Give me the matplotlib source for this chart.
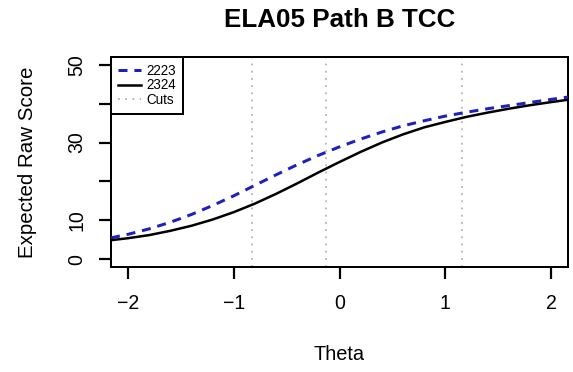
import numpy as np
import matplotlib
matplotlib.use("Agg")
import matplotlib.pyplot as plt

plt.rcParams['font.family'] = ['Liberation Sans', 'DejaVu Sans']

# values
theta = [-2.16, -2.0, -1.8, -1.6, -1.4, -1.2, -1.0, -0.8, -0.6, -0.4, -0.2, 0.0,
         0.2, 0.4, 0.6, 0.8, 1.0, 1.2, 1.4, 1.6, 1.8, 2.0, 2.16]
tcc_2223 = [5.5, 6.4, 7.8, 9.5, 11.5, 13.8, 16.3, 19.0, 21.7, 24.3, 26.7, 28.9,
            30.9, 32.7, 34.3, 35.6, 36.8, 37.8, 38.7, 39.5, 40.3, 41.1, 41.7]
tcc_2324 = [4.9, 5.4, 6.2, 7.3, 8.6, 10.2, 12.1, 14.3, 16.8, 19.5, 22.3, 25.0,
            27.6, 30.0, 32.1, 33.9, 35.3, 36.6, 37.7, 38.7, 39.6, 40.4, 41.0]
cuts = [-0.83, -0.13, 1.16]
ytick_vals = [0, 10, 20, 30, 40, 50]
ytick_labels = ['0', '10', '', '30', '', '50']
xtick_vals = [-2, -1, 0, 1, 2]

W, H = 573, 372
fig = plt.figure(figsize=(W / 72, H / 72), dpi=72)
ax = fig.add_axes([111 / W, 1 - 267 / H, 457 / W, 210 / H])

ax.plot(theta, tcc_2223, color='#1f1fc0', lw=3, dashes=(3, 2.3), label='2223', zorder=3)
ax.plot(theta, tcc_2324, color='black', lw=2.5, label='2324', zorder=3,
        solid_joinstyle='round')
for i, c in enumerate(cuts):
    ax.axvline(c, color='#b4b4b4', lw=1.8, dashes=(1, 3), zorder=1,
               label='Cuts' if i == 0 else None)

ax.set_xlim(-2.16, 2.16)
ax.set_ylim(-2, 52)
ax.set_xticks(xtick_vals)
ax.set_xticklabels(['\u22122', '\u22121', '0', '1', '2'])
ax.set_yticks(ytick_vals)
ax.set_yticklabels(ytick_labels)

for s in ax.spines.values():
    s.set_linewidth(2)
ax.tick_params(axis='both', length=12, width=2.2, labelsize=19.5)
ax.tick_params(axis='x', pad=15)
ax.tick_params(axis='y', pad=13, labelrotation=90)
for lab in ax.get_yticklabels():
    lab.set_va('center')

ax.set_xlabel('Theta', fontsize=20)
ax.xaxis.label.set_va('center')
ax.xaxis.set_label_coords(0.5, (267 - 355) / 210)
ax.set_ylabel('Expected Raw Score', fontsize=20.5)
ax.yaxis.label.set_va('center')
ax.yaxis.set_label_coords((28 - 111) / 457, 0.5)

fig.text(339.5 / W, 1 - 20 / H, 'ELA05 Path B TCC', fontsize=26,
         fontweight='bold', ha='center', va='center')

leg = ax.legend(loc='upper left', borderaxespad=0, fancybox=False,
                edgecolor='black', framealpha=1, fontsize=13.5,
                handlelength=1.7, handletextpad=0.45, labelspacing=0.05,
                borderpad=0.5)
leg.get_frame().set_linewidth(2)

fig.savefig('out.png', dpi=72)
